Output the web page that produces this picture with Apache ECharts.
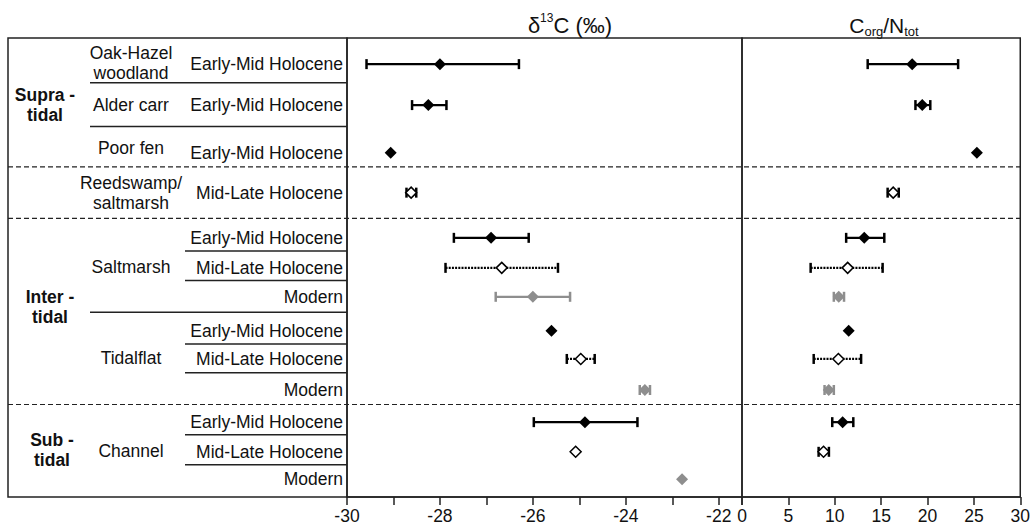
<!DOCTYPE html>
<html>
<head>
<meta charset="utf-8">
<script src="https://cdn.jsdelivr.net/npm/echarts@6/dist/echarts.min.js"></script>
<style>
  html, body { margin: 0; padding: 0; background: #fff; }
  #chart { width: 1033px; height: 526px; }
</style>
</head>
<body>
<div id="chart"></div>
<script>
// rows, top to bottom
const ages = ['Early-Mid Holocene', 'Early-Mid Holocene', 'Early-Mid Holocene', 'Mid-Late Holocene',
  'Early-Mid Holocene', 'Mid-Late Holocene', 'Modern',
  'Early-Mid Holocene', 'Mid-Late Holocene', 'Modern',
  'Early-Mid Holocene', 'Mid-Late Holocene', 'Modern'];
const habitats = ['Oak-Hazel\nwoodland', 'Alder carr', 'Poor fen', 'Reedswamp/\nsaltmarsh', 'Saltmarsh', 'Tidalflat', 'Channel'];
const zones = ['Supra -\ntidal', 'Inter -\ntidal', 'Sub -\ntidal'];

const d13cMean = [-28.0, -28.25, -29.06, -28.62, -26.9, -26.67, -26.0, -25.6, -24.97, -23.59, -24.88, -25.08, -22.79];
const d13cLow  = [-29.58, -28.6, null, -28.72, -27.7, -27.88, -26.8, null, -25.27, -23.7, -25.98, null, null];
const d13cHigh = [-26.3, -27.86, null, -28.51, -26.09, -25.46, -25.2, null, -24.67, -23.48, -23.75, null, null];

const cnMean = [18.35, 19.43, 25.32, 16.3, 13.18, 11.39, 10.43, 11.5, 10.39, 9.35, 10.85, 8.79, null];
const cnLow  = [13.55, 18.7, null, 15.7, 11.23, 7.4, 9.9, null, 7.73, 8.9, 9.73, 8.26, null];
const cnHigh = [23.3, 20.3, null, 16.9, 15.34, 15.16, 11.0, null, 12.84, 9.9, 12.0, 9.37, null];

const d13cTicks = [-30, -28, -26, -24, -22];
const cnTicks = [0, 5, 10, 15, 20, 25, 30];

// layout: vertical slot of rows and labels (0 = frame top, 13 = frame bottom)
const rowY = [0.74, 1.9, 3.25, 4.38, 5.66, 6.51, 7.33, 8.29, 9.09, 9.97, 10.88, 11.72, 12.5];
const habitatY = [0.71, 1.9, 3.12, 4.39, 6.48, 9.06, 11.7];
const zoneY = [1.9, 7.61, 11.66];
const zoneX = [45, 50, 52];
const dashY = [3.65, 5.11, 10.38];
const longRule = [1.27, 2.51, 7.77];
const shortRule = [6.03, 6.87, 8.67, 9.48, 11.24, 12.09];

const FONT = '"Liberation Sans", Arial, sans-serif';
const GREY = '#8e8e8e';
const ageStyle = {
  'Early-Mid Holocene': { fill: '#000', stroke: '#000', dash: null },
  'Mid-Late Holocene': { fill: '#fff', stroke: '#000', dash: [2, 1.2] },
  'Modern': { fill: GREY, stroke: GREY, dash: null }
};

function barData(lo, hi) {
  const out = [];
  lo.forEach((v, i) => { if (v != null) out.push([v, hi[i], rowY[i], i]); });
  return out;
}
function meanData(m) {
  const out = [];
  m.forEach((v, i) => {
    if (v == null) return;
    const st = ageStyle[ages[i]];
    const open = ages[i] === 'Mid-Late Holocene';
    out.push({
      value: [v, rowY[i]],
      symbolSize: open ? 11 : 12,
      itemStyle: { color: st.fill, borderColor: st.stroke, borderWidth: open ? 1.5 : 0, opacity: 1 }
    });
  });
  return out;
}
function renderBar(params, api) {
  const a = api.coord([api.value(0), api.value(2)]);
  const b = api.coord([api.value(1), api.value(2)]);
  const st = ageStyle[ages[api.value(3)]];
  const cap = 5;
  return {
    type: 'group',
    children: [
      { type: 'line', shape: { x1: a[0], y1: a[1], x2: b[0], y2: b[1] },
        style: { stroke: st.stroke, lineWidth: 2.2, lineDash: st.dash } },
      { type: 'line', shape: { x1: a[0], y1: a[1] - cap, x2: a[0], y2: a[1] + cap },
        style: { stroke: st.stroke, lineWidth: 2.5 } },
      { type: 'line', shape: { x1: b[0], y1: b[1] - cap, x2: b[0], y2: b[1] + cap },
        style: { stroke: st.stroke, lineWidth: 2.5 } }
    ]
  };
}

function xAxisOf(grid, min, max, interval, ticks) {
  return {
    gridIndex: grid, type: 'value', min: min, max: max, interval: interval,
    splitLine: { show: false },
    axisLine: { show: true, onZero: false, lineStyle: { color: '#222', width: 1.5 } },
    axisTick: { show: true, length: 8, lineStyle: { color: '#222', width: 1.5 } },
    axisLabel: {
      color: '#111', fontSize: 17.5, fontFamily: FONT, margin: 10,
      formatter: v => ticks.indexOf(v) >= 0 ? String(v) : ''
    }
  };
}
function yAxisOf(grid) {
  return { gridIndex: grid, type: 'value', min: 0, max: 13, inverse: true, show: false };
}

const chart = echarts.init(document.getElementById('chart'), null, { renderer: 'svg' });
chart.setOption({
  animation: false,
  grid: [
    { left: 347, top: 38, width: 395, height: 459, show: true, borderColor: '#222', borderWidth: 1.5 },
    { left: 742, top: 38, width: 280, height: 459, show: true, borderColor: '#222', borderWidth: 1.5 }
  ],
  xAxis: [xAxisOf(0, -30, -21.5, 1, d13cTicks), xAxisOf(1, 0, 30, 5, cnTicks)],
  yAxis: [yAxisOf(0), yAxisOf(1)],
  series: [
    { type: 'custom', xAxisIndex: 0, yAxisIndex: 0, renderItem: renderBar, data: barData(d13cLow, d13cHigh), z: 2 },
    { type: 'custom', xAxisIndex: 1, yAxisIndex: 1, renderItem: renderBar, data: barData(cnLow, cnHigh), z: 2 },
    { type: 'scatter', xAxisIndex: 0, yAxisIndex: 0, symbol: 'diamond', data: meanData(d13cMean), z: 3 },
    { type: 'scatter', xAxisIndex: 1, yAxisIndex: 1, symbol: 'diamond', data: meanData(cnMean), z: 3 }
  ]
});

// table labels and rules in the left column
const yPix = v => chart.convertToPixel({ yAxisIndex: 0 }, v);
const line = (x1, y, x2, dash) => ({
  type: 'line', shape: { x1: x1, y1: y, x2: x2, y2: y },
  style: { stroke: '#222', lineWidth: dash ? 1.2 : 1.5, lineDash: dash || null }, z: 10
});
const text = (t, x, y, align, bold) => ({
  type: 'text', z: 10,
  style: { text: t, x: x, y: y, align: align, verticalAlign: 'middle', textAlign: align, textVerticalAlign: 'middle',
    font: (bold ? 'bold ' : '') + '17.5px ' + FONT, lineHeight: 20, fill: '#111' }
});
const g = [];
g.push({ type: 'rect', shape: { x: 8, y: 38, width: 339, height: 459 },
  style: { fill: 'none', stroke: '#222', lineWidth: 1.5 }, z: 10 });
dashY.forEach(v => g.push(line(8, yPix(v), 1022, [5, 3])));
longRule.forEach(v => g.push(line(90, yPix(v), 347)));
shortRule.forEach(v => g.push(line(185, yPix(v), 347)));
ages.forEach((a, i) => g.push(text(a, 343, yPix(rowY[i]), 'right')));
habitats.forEach((h, i) => g.push(text(h, 131, yPix(habitatY[i]), 'center')));
zones.forEach((z, i) => g.push(text(z, zoneX[i], yPix(zoneY[i]), 'center', true)));
g.push({
  type: 'text', z: 10,
  style: { text: '{a|δ}{s|13}{a|C (‰)}', x: 570, y: 25, align: 'center', verticalAlign: 'middle',
    rich: {
      a: { fontSize: 22, fontFamily: FONT, lineHeight: 26, verticalAlign: 'middle', fill: '#111' },
      s: { fontSize: 12, fontFamily: FONT, lineHeight: 14, verticalAlign: 'top', fill: '#111' }
    } }
});
g.push({
  type: 'text', z: 10,
  style: { text: '{a|C}{s|org}{a|/N}{s|tot}', x: 884, y: 25, align: 'center', verticalAlign: 'middle',
    rich: {
      a: { fontSize: 21, fontFamily: FONT, lineHeight: 26, verticalAlign: 'middle', fill: '#111' },
      s: { fontSize: 13, fontFamily: FONT, lineHeight: 12, verticalAlign: 'bottom', fill: '#111' }
    } }
});
chart.setOption({ graphic: g });
</script>
</body>
</html>
